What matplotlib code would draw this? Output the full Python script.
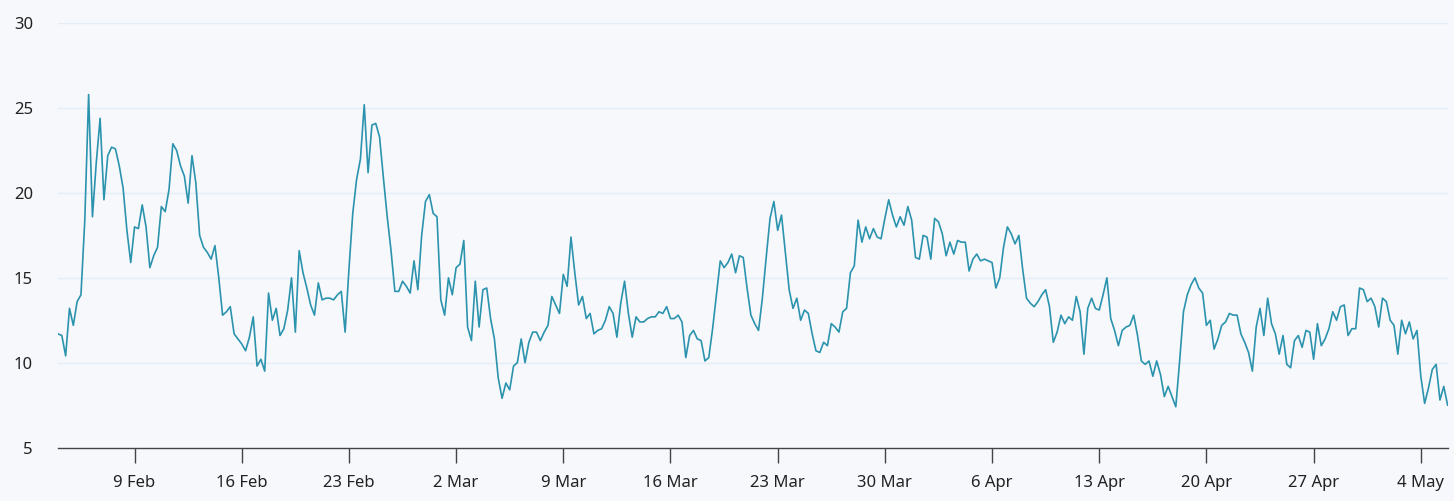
import matplotlib
matplotlib.use("Agg")
import matplotlib.pyplot as plt
import matplotlib.dates as mdates
from matplotlib.ticker import FuncFormatter
import pandas as pd

# ---- data: 6-hourly readings starting 4 Feb 2025 ----
start = "2025-02-04 00:00"
step = "6h"

seg1 = [11.7, 11.6, 10.4, 13.2, 12.2, 13.6, 14.0, 18.4, 25.8, 18.6,
        21.8, 24.4, 19.6, 22.2, 22.7, 22.6, 21.6, 20.3, 17.8, 15.9,
        18.0, 17.9, 19.3, 18.0, 15.6, 16.3, 16.8, 19.2, 18.9, 20.2,
        22.9, 22.5, 21.6, 21.0, 19.4, 22.2, 20.6, 17.5, 16.8, 16.5,
        16.1, 16.9, 15.0, 12.8, 13.0, 13.3, 11.7, 11.4, 11.1, 10.7,
        11.5, 12.7, 9.8, 10.2, 9.5, 14.1, 12.5, 13.2, 11.6, 12.0,
        13.1, 15.0]
seg2 = [11.8, 16.6, 15.3, 14.4, 13.4, 12.8, 14.7, 13.7, 13.8, 13.8,
        13.7, 14.0, 14.2, 11.8, 15.5, 18.8, 20.8, 22.0, 25.2, 21.2,
        24.0, 24.1, 23.3, 20.9, 18.6, 16.6, 14.2, 14.2, 14.8, 14.5,
        14.1, 16.0, 14.3, 17.5, 19.5, 19.9, 18.8, 18.6, 13.7, 12.8,
        15.0, 14.0, 15.6, 15.8, 17.2, 12.1, 11.3, 14.8, 12.1, 14.3,
        14.4, 12.6, 11.4, 9.1, 7.9, 8.8, 8.4, 9.8, 10.0, 11.4,
        10.0]
seg3 = [11.2, 11.8, 11.8, 11.3, 11.8, 12.2, 13.9, 13.4, 12.9, 15.2,
        14.5, 17.4, 15.3, 13.4, 13.9, 12.6, 12.9, 11.7, 11.9, 12.0,
        12.5, 13.3, 12.9, 11.5, 13.5, 14.8, 12.9, 11.5, 12.7, 12.4,
        12.4, 12.6, 12.7, 12.7, 13.0, 12.9, 13.3, 12.6, 12.6, 12.8,
        12.4, 10.3, 11.6, 11.9, 11.4, 11.3, 10.1, 10.3, 12.0, 14.0,
        16.0, 15.6, 15.9, 16.4, 15.3, 16.3, 16.2, 14.4, 12.8]
seg4 = [12.3, 11.9, 13.8, 16.2, 18.5, 19.5, 17.8, 18.7, 16.5, 14.3,
        13.2, 13.8, 12.5, 13.1, 12.9, 11.7, 10.7, 10.6, 11.2, 11.0,
        12.3, 12.1, 11.8, 13.0, 13.2, 15.3, 15.7, 18.4, 17.1, 18.0,
        17.3, 17.9, 17.4, 17.3, 18.5, 19.6, 18.7, 18.0, 18.6, 18.1,
        19.2, 18.4, 16.2, 16.1, 17.5, 17.4, 16.1, 18.5, 18.3, 17.6,
        16.3, 17.1, 16.4, 17.2, 17.1, 17.1, 15.4, 16.1, 16.4, 16.0,
        16.1]
seg5 = [16.0, 15.9, 14.4, 15.0, 16.8, 18.0, 17.6, 17.0, 17.5, 15.5,
        13.8, 13.5, 13.3, 13.6, 14.0, 14.3, 13.3, 11.2, 11.8, 12.8,
        12.3, 12.7, 12.5, 13.9, 13.0, 10.5, 13.2, 13.8, 13.2, 13.1,
        14.0, 15.0, 12.6, 11.9, 11.0, 11.9, 12.1, 12.2, 12.8, 11.6,
        10.1, 9.9, 10.1, 9.2, 10.1, 9.3, 8.0, 8.6, 8.0, 7.4,
        10.1, 13.0, 14.0, 14.6, 15.0, 14.4, 14.1, 12.2, 12.5, 10.8]
seg6 = [11.4, 12.2, 12.4, 12.9, 12.8, 12.8, 11.7, 11.2, 10.6, 9.5,
        12.1, 13.2, 11.6, 13.8, 12.3, 11.7, 10.5, 11.6, 9.9, 9.7,
        11.3, 11.6, 10.9, 11.9, 11.8, 10.2, 12.3, 11.0, 11.4, 12.0,
        13.0, 12.5, 13.3, 13.4, 11.6, 12.0, 12.0, 14.4, 14.3, 13.6,
        13.8, 13.3, 12.1, 13.8, 13.6, 12.5, 12.2, 10.5, 12.5, 11.7,
        12.4, 11.4, 11.9, 9.2, 7.6, 8.5, 9.6, 9.9, 7.8, 8.6,
        7.5]

y_ticks = [5, 10, 15, 20, 25, 30]

values = seg1 + seg2 + seg3 + seg4 + seg5 + seg6
times = pd.date_range(start, periods=len(values), freq=step)

# ---- style ----
BG = "#f6f8fb"
LINE = "#2b93ae"
GRID = "#e4ecf5"
AXIS = "#444444"
TEXT = "#222222"

plt.rcParams["font.family"] = ["Noto Sans", "DejaVu Sans"]

fig = plt.figure(figsize=(14.54, 5.01), dpi=100, facecolor=BG)
W, H = 1454, 501
ax = fig.add_axes([58 / W, (H - 447.5) / H, (1447.6 - 58) / W, (447.5 - 23.3) / H])
ax.set_facecolor(BG)

ax.plot(times, values, color=LINE, lw=1.2, solid_joinstyle="round")

ax.set_xlim(times[0], times[-1])
ax.set_ylim(5, 30)
ax.set_yticks(y_ticks)
for v in y_ticks[1:]:
    ax.axhline(v, color=GRID, lw=1.0, zorder=0)

for s in ["left", "right", "top"]:
    ax.spines[s].set_visible(False)
ax.spines["bottom"].set_color(AXIS)
ax.spines["bottom"].set_linewidth(1.0)

ax.xaxis.set_major_locator(mdates.WeekdayLocator(byweekday=mdates.SU))
ax.xaxis.set_major_formatter(FuncFormatter(
    lambda x, pos: f"{mdates.num2date(x).day} {mdates.num2date(x):%b}"))

ax.tick_params(axis="x", length=10.5, width=1.0, color=AXIS, pad=9,
               labelsize=12, labelcolor=TEXT)
ax.tick_params(axis="y", length=0, pad=18, labelsize=12, labelcolor=TEXT)

fig.savefig("out.png", dpi=100, facecolor=BG)
